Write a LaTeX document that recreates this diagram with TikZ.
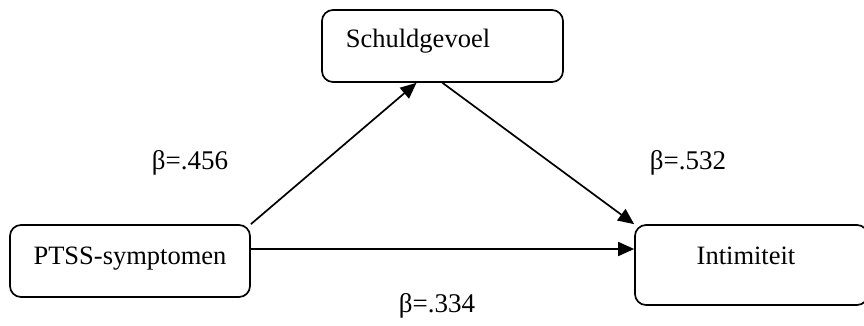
\documentclass[tikz,border=0pt]{standalone}
\usepackage{fontspec}
\setmainfont{Liberation Serif}
\usetikzlibrary{arrows.meta}
\begin{document}
\begin{tikzpicture}[x=1bp,y=-1bp,
  varbox/.style={draw, line width=1.7bp, rounded corners=11bp, inner sep=0pt},
  boxtext/.style={anchor=base, inner sep=0pt, font=\fontsize{26.5bp}{30bp}\selectfont},
  coef/.style={anchor=base, inner sep=0pt, font=\fontsize{27bp}{32bp}\selectfont},
  path/.style={line width=1.7bp, -{Triangle[length=16bp,width=14bp]}}]
  \useasboundingbox (0,0) rectangle (864,325);

  % variables
  \node[varbox, minimum width=240bp, minimum height=72bp] (ptss) at (130,261) {};
  \node[varbox, minimum width=241bp, minimum height=72bp] (schuld) at (442.5,46) {};
  \node[varbox, minimum width=233bp, minimum height=80bp] (intim) at (751.5,265) {};

  \node[boxtext] (ptsstext) at (130,264) {PTSS-symptomen};
  \node[boxtext] (schuldtext) at (418,47) {Schuldgevoel};
  \node[boxtext] (intimtext) at (746,264) {Intimiteit};

  % paths
  \draw[path] (ptss.north east) -- ([xshift=-26bp]schuld.south);
  \draw[path] (schuld.south) -- (intim.north west);
  \draw[path] ([yshift=12bp]ptss.east) -- ([yshift=12bp]ptss.east -| intim.west);

  % coefficients
  \node[coef] (b1) at (190,169) {β=.456};
  \node[coef] (b2) at (688,169) {β=.532};
  \node[coef] (b3) at (437,312) {β=.334};
\end{tikzpicture}
\end{document}
